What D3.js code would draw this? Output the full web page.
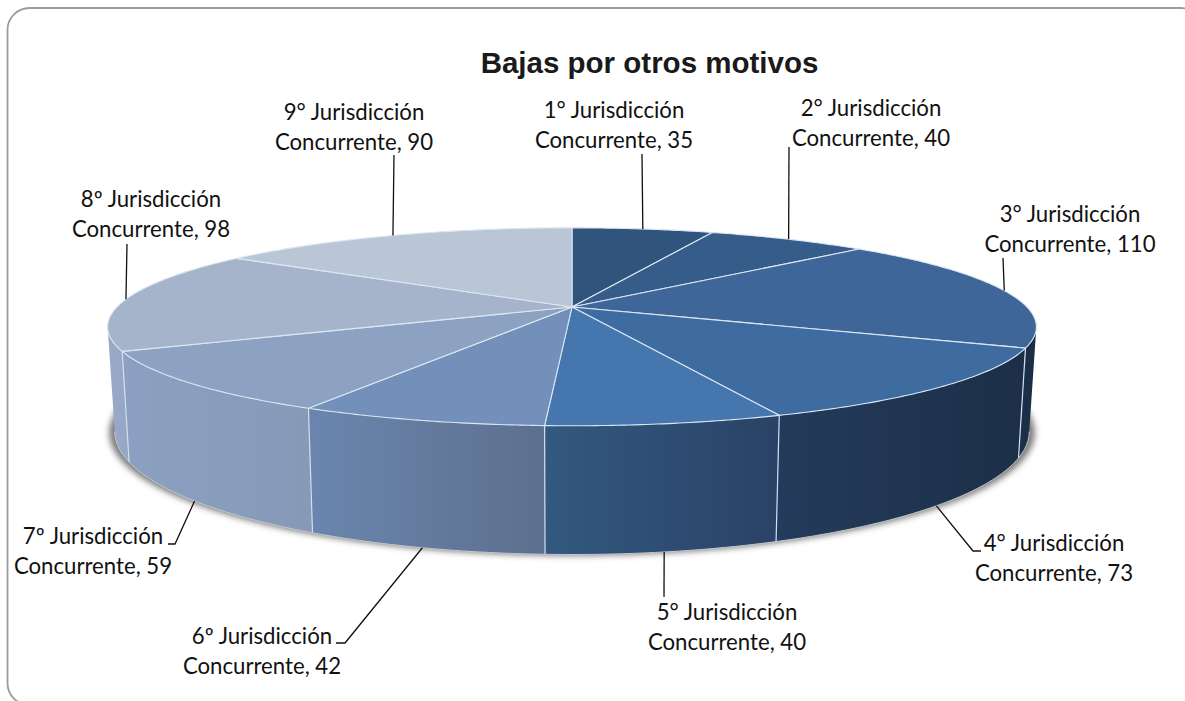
<!DOCTYPE html>
<html><head><meta charset="utf-8">
<script src="https://cdn.jsdelivr.net/npm/d3@7"></script>
<style>html,body{margin:0;padding:0;background:#fff;overflow:hidden}svg{display:block}</style>
</head><body>
<script>
const title = "Bajas por otros motivos";
const ordinals = ["1°","2°","3°","4°","5°","6º","7º","8º","9°"];
const values = [35,40,110,73,40,42,59,98,90];
const topColors = ["#30547c","#365c8a","#3e6698","#3f6ca0","#4576ae","#7390ba","#8da2c2","#a5b4cb","#bac5d5"];
const sideLeft  = ["#30547c","#365c8a","#1c2f48","#233b5c","#33597f","#6a86ae","#8ba0c2","#9aaac9","#bac5d5"];
const sideRight = ["#30547c","#365c8a","#1b2e46","#1c2f47","#2a4266","#5d6f8e","#8799b7","#95a7c6","#bac5d5"];
const labelX = [614,871,1070,1054,727,262,93,151,354];
const labelY = [118,116,222,551,620,644,544,207,120];
const leaderElbows = [[[642,154]],[[789,147]],[[1003,258]],[[973,551],[981,551]],[[664,597]],[[345,643],[336,643]],[[175,544],[168,544]],[[127,244]],[[394,155]]];

const W=1185,H=701;
const svg=d3.select("body").append("svg").attr("width",W).attr("height",H);
const defs=svg.append("defs");
defs.append("filter").attr("id","blur").attr("x","-5%").attr("y","-10%").attr("width","110%").attr("height","120%")
  .append("feGaussianBlur").attr("stdDeviation",3);

svg.append("rect").attr("x",7.5).attr("y",8).attr("width",1195).attr("height",697).attr("rx",22)
  .attr("fill","#fff").attr("stroke","#9c9c9c").attr("stroke-width",1.8);
svg.append("text").attr("x",649.5).attr("y",73).attr("text-anchor","middle")
  .attr("font-family","Liberation Sans, Arial, sans-serif").attr("font-weight","bold").attr("font-size",29.5)
  .attr("fill","#1a1a1a").text(title);

// perspective projection of the two pie planes
const persp=.2, cx=572;
const planeTop={R:455,S:95,cy:307}, planeBot={R:448,S:118,cy:407};
const project=(p,a)=>{const x=Math.sin(a),y=-Math.cos(a),d=1-persp*y;return [cx+p.R*x/d,p.cy+p.S*y/d];};
const arcPts=(p,a0,a1)=>{const n=Math.max(2,Math.ceil(Math.abs(a1-a0)/.01));
  return d3.range(n+1).map(i=>project(p,a0+(a1-a0)*i/n));};
const line=d3.line();
const pie=d3.pie().sort(null).value(d=>d).startAngle(0).endAngle(2*Math.PI);
const arcs=pie(values);

// shadow
svg.append("path").attr("d",line(arcPts({...planeBot,R:planeBot.R*1.012,cy:planeBot.cy+1},0,2*Math.PI))+"Z")
  .attr("fill","#7a7a7a").attr("filter","url(#blur)");

// side wall (only the front-facing arc range)
const visFrom=Math.PI-Math.acos(persp), visTo=Math.PI+Math.acos(persp);
arcs.forEach((d,i)=>{
  const a0=Math.max(d.startAngle,visFrom), a1=Math.min(d.endAngle,visTo);
  if(a1<=a0) return;
  const tp=arcPts(planeTop,a0,a1), bp=arcPts(planeBot,a0,a1);
  const xs=tp.concat(bp).map(p=>p[0]);
  const g=defs.append("linearGradient").attr("id","side"+i).attr("gradientUnits","userSpaceOnUse")
    .attr("x1",d3.min(xs)).attr("x2",d3.max(xs)).attr("y1",0).attr("y2",0);
  g.append("stop").attr("offset",0).attr("stop-color",sideLeft[i]);
  g.append("stop").attr("offset",1).attr("stop-color",sideRight[i]);
  svg.append("path").attr("d",line(tp.concat(bp.reverse()))+"Z").attr("fill",`url(#side${i})`);
});
// light seams and edges of the wall
arcs.forEach((d,i)=>{
  const a=d.endAngle;
  if(a>visFrom&&a<visTo) svg.append("path").attr("d",line([project(planeTop,a),project(planeBot,a)]))
    .attr("stroke","#d5e0ee").attr("stroke-width",1.2).attr("fill","none");
});
svg.append("path").attr("d",line(arcPts(planeBot,visFrom,visTo))).attr("fill","none")
  .attr("stroke","#c4c8cf").attr("stroke-width",1);

// top face
arcs.forEach((d,i)=>{
  svg.append("path").attr("d",line([[cx,planeTop.cy]].concat(arcPts(planeTop,d.startAngle,d.endAngle)))+"Z")
    .attr("fill",topColors[i]).attr("stroke","#dbe6f3").attr("stroke-width",1.1).attr("stroke-linejoin","round");
});

// labels and leaders
arcs.forEach((d,i)=>{
  const mid=(d.startAngle+d.endAngle)/2;
  const front=Math.cos(mid)<-persp;
  const anchor=project(front?planeBot:planeTop,mid);
  svg.append("path").attr("d",line([anchor].concat(leaderElbows[i]))).attr("fill","none")
    .attr("stroke","#111").attr("stroke-width",1.3);
  const t=svg.append("text").attr("text-anchor","middle").attr("font-family","Lato, sans-serif")
    .attr("font-size",22.2).attr("fill","#111");
  t.append("tspan").attr("x",labelX[i]).attr("y",labelY[i]).text(`${ordinals[i]} Jurisdicción`);
  t.append("tspan").attr("x",labelX[i]).attr("y",labelY[i]+30).text(`Concurrente, ${values[i]}`);
});
</script>
</body></html>
